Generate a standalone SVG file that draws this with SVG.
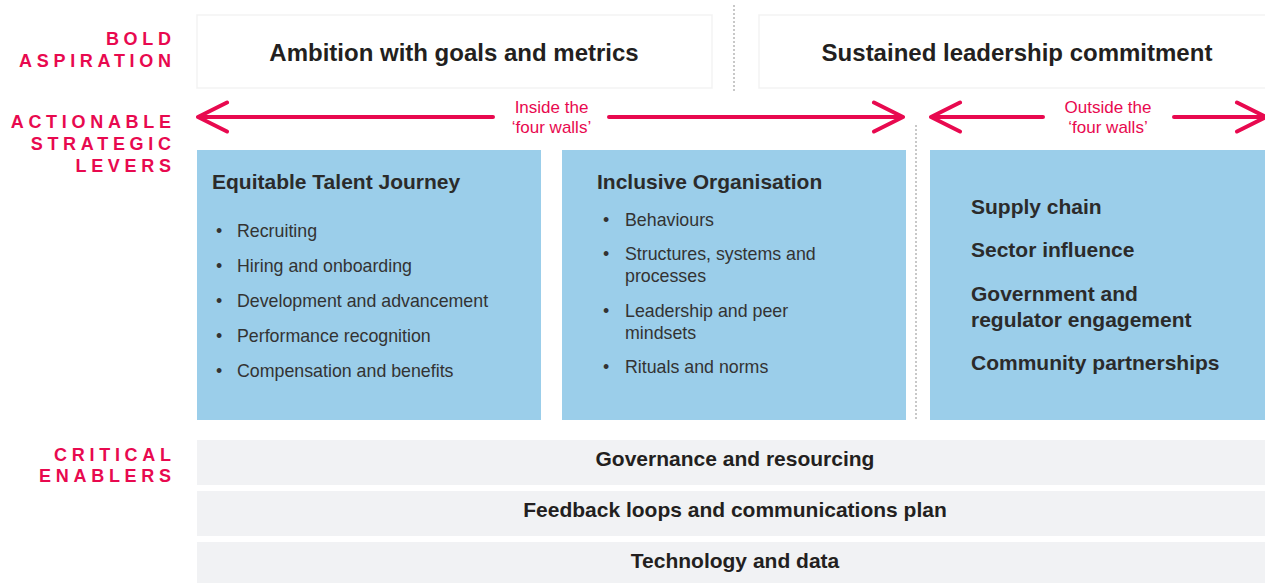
<svg xmlns="http://www.w3.org/2000/svg" width="1265" height="583" viewBox="0 0 1265 583">
<defs>
<style>
.lbl{font-family:"Liberation Sans",Arial,sans-serif;font-weight:bold;font-size:18px;letter-spacing:4.7px;fill:#E8094F;text-anchor:end}
.top{fill:#fff;stroke:#f3f3f3;stroke-width:1.5}
.toptxt{font-family:"Liberation Sans",Arial,sans-serif;font-weight:bold;font-size:24px;fill:#231f20;text-anchor:middle}
.blue{fill:#9BCEEA}
.ttl{font-family:"Liberation Sans",Arial,sans-serif;font-weight:bold;font-size:21px;fill:#2b2b2b}
.bul{font-family:"Liberation Sans",Arial,sans-serif;font-size:17.8px;fill:#333}
.gray{fill:#F1F2F4}
.bar{font-family:"Liberation Sans",Arial,sans-serif;font-weight:bold;font-size:21px;fill:#231f20;text-anchor:middle}
.arr{fill:none;stroke:#E8094F;stroke-width:4;stroke-linecap:round;stroke-linejoin:round}
.atxt{font-family:"Liberation Sans",Arial,sans-serif;font-size:17px;fill:#E8094F;text-anchor:middle}
.dot{stroke:#c8c8c8;stroke-width:2;stroke-dasharray:2 2;fill:none}
</style>
</defs>
<rect width="1265" height="583" fill="#fff"/>
<g id="labels">
<text class="lbl" x="175.7" y="45">BOLD</text>
<text class="lbl" x="175.7" y="66.5">ASPIRATION</text>
<text class="lbl" x="175.7" y="128">ACTIONABLE</text>
<text class="lbl" x="175.7" y="150">STRATEGIC</text>
<text class="lbl" x="175.7" y="172">LEVERS</text>
<text class="lbl" x="175.7" y="461">CRITICAL</text>
<text class="lbl" x="175.7" y="482">ENABLERS</text>
</g>
<g id="ambition">
<rect class="top" x="197" y="15" width="515" height="73"/>
<text class="toptxt" x="454" y="61">Ambition with goals and metrics</text>
</g>
<g id="leadership">
<rect class="top" x="759" y="15" width="520" height="73"/>
<text class="toptxt" x="1017" y="61">Sustained leadership commitment</text>
</g>
<g id="connectors">
<line class="dot" x1="734" y1="5" x2="734" y2="93"/>
<line class="dot" x1="916" y1="125" x2="916" y2="420"/>
<path class="arr" d="M198 117H493M609 117H903M227 102.5L198 117L227 131.5M874 102.5L903 117L874 131.5"/>
<path class="arr" d="M931 117H1043M1174 117H1266M960 102.5L931 117L960 131.5M1237 102.5L1266 117L1237 131.5"/>
<text class="atxt" x="551.5" y="113">Inside the</text>
<text class="atxt" x="551.5" y="133">‘four walls’</text>
<text class="atxt" x="1108" y="113">Outside the</text>
<text class="atxt" x="1108" y="133">‘four walls’</text>
</g>
<g id="talent">
<rect class="blue" x="197" y="150" width="344" height="270"/>
<text class="ttl" x="212" y="189">Equitable Talent Journey</text>
<g class="bul">
<text x="216" y="237">•</text><text x="237" y="237">Recruiting</text>
<text x="216" y="272">•</text><text x="237" y="272">Hiring and onboarding</text>
<text x="216" y="307">•</text><text x="237" y="307">Development and advancement</text>
<text x="216" y="342">•</text><text x="237" y="342">Performance recognition</text>
<text x="216" y="377">•</text><text x="237" y="377">Compensation and benefits</text>
</g>
</g>
<g id="inclusive">
<rect class="blue" x="562" y="150" width="344" height="270"/>
<text class="ttl" x="597" y="189">Inclusive Organisation</text>
<g class="bul">
<text x="603" y="226">•</text><text x="625" y="226">Behaviours</text>
<text x="603" y="260">•</text><text x="625" y="260">Structures, systems and</text>
<text x="625" y="282">processes</text>
<text x="603" y="317">•</text><text x="625" y="317">Leadership and peer</text>
<text x="625" y="338.5">mindsets</text>
<text x="603" y="373">•</text><text x="625" y="373">Rituals and norms</text>
</g>
</g>
<g id="outside">
<rect class="blue" x="930" y="150" width="340" height="270"/>
<text class="ttl" x="971" y="214">Supply chain</text>
<text class="ttl" x="971" y="257">Sector influence</text>
<text class="ttl" x="971" y="301">Government and</text>
<text class="ttl" x="971" y="327">regulator engagement</text>
<text class="ttl" x="971" y="369.5">Community partnerships</text>
</g>
<g id="governance">
<rect class="gray" x="197" y="440" width="1075" height="45"/>
<text class="bar" x="735" y="466">Governance and resourcing</text>
</g>
<g id="feedback">
<rect class="gray" x="197" y="491" width="1075" height="45"/>
<text class="bar" x="735" y="517">Feedback loops and communications plan</text>
</g>
<g id="technology">
<rect class="gray" x="197" y="542" width="1075" height="45"/>
<text class="bar" x="735" y="567.5">Technology and data</text>
</g>
</svg>
